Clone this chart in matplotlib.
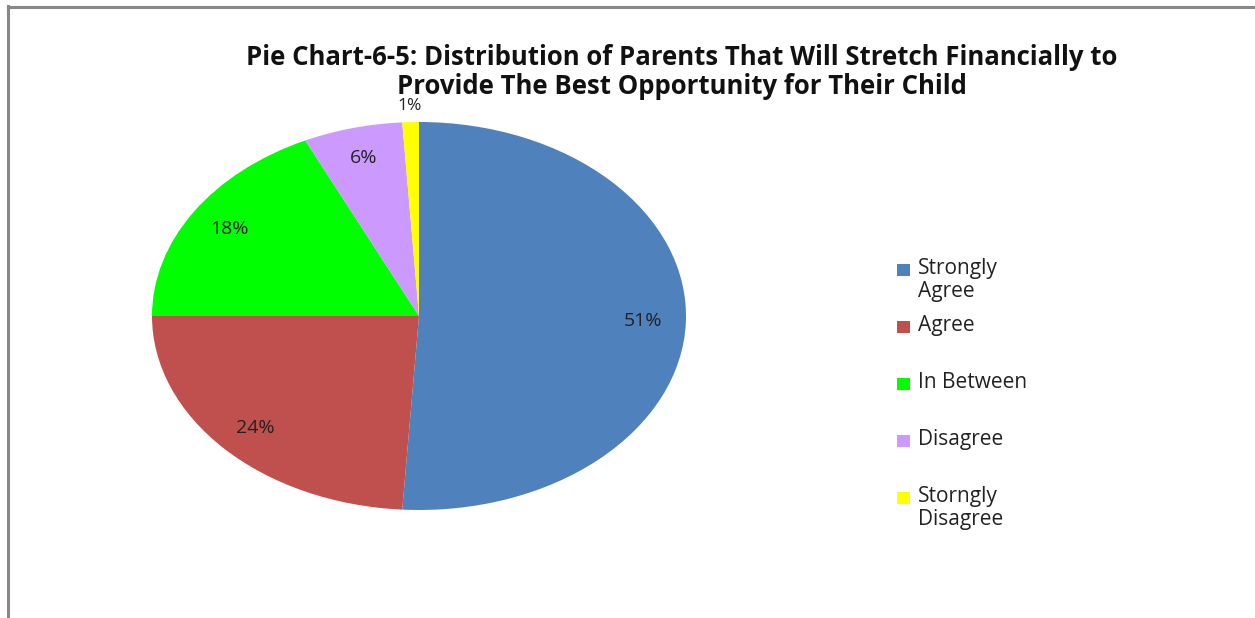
import numpy as np
import matplotlib
matplotlib.use("Agg")
import matplotlib.pyplot as plt
from matplotlib.patches import Rectangle
from matplotlib.lines import Line2D

categories = ["Strongly\nAgree", "Agree", "In Between", "Disagree", "Storngly\nDisagree"]
shares = [51, 24, 18, 6, 1]
colors = ["#4F81BD", "#C0504D", "#00FF00", "#CC99FF", "#FFFF00"]
title = ("Pie Chart-6-5: Distribution of Parents That Will Stretch Financially to\n"
         "Provide The Best Opportunity for Their Child")

W, H = 1255, 618
fig = plt.figure(figsize=(W / 100, H / 100), dpi=100)
plt.rcParams["font.family"] = ["Open Sans", "DejaVu Sans"]

# chart frame (top and left edges visible)
fig.add_artist(Line2D([8 / W, 8 / W], [0, 1 - 6 / H], color="#888888", lw=2.2,
                      transform=fig.transFigure))
fig.add_artist(Line2D([8 / W, 1], [1 - 6.5 / H, 1 - 6.5 / H], color="#888888", lw=2.2,
                      transform=fig.transFigure))

# elliptical pie area
left, right, top, bottom = 152, 686, 122, 510
ax = fig.add_axes([left / W, 1 - bottom / H, (right - left) / W, (bottom - top) / H])
wedges, texts, autotexts = ax.pie(
    shares, colors=colors, startangle=90, counterclock=False,
    autopct=lambda p: f"{p:.0f}%", pctdistance=0.84, radius=1,
    textprops=dict(fontsize=14, color="#222222"),
    wedgeprops=dict(linewidth=0),
)
ax.set_aspect("auto")
ax.set_xlim(-1, 1)
ax.set_ylim(-1, 1)
ax.axis("off")

# the thin slice gets its label just outside the rim
for w, t, s in zip(wedges, autotexts, shares):
    if s < 3:
        ang = np.deg2rad((w.theta1 + w.theta2) / 2)
        t.set_position((1.085 * np.cos(ang), 1.085 * np.sin(ang)))
        t.set_fontsize(12.5)

fig.text(682 / W, 1 - 72 / H, title, ha="center", va="center", fontsize=18.5,
         fontweight="bold", linespacing=1.05, color="#111111")

# legend
y0, dy = 270, 57
for i, (lab, c) in enumerate(zip(categories, colors)):
    y = y0 + i * dy
    fig.add_artist(Rectangle((897 / W, 1 - (y + 6) / H), 13 / W, 12 / H,
                             facecolor=c, edgecolor="none", transform=fig.transFigure))
    fig.text(918 / W, 1 - (y - 12) / H, lab, ha="left", va="top", fontsize=15,
             color="#222222", linespacing=1.15)

fig.savefig("out.png", dpi=100, facecolor="white")
